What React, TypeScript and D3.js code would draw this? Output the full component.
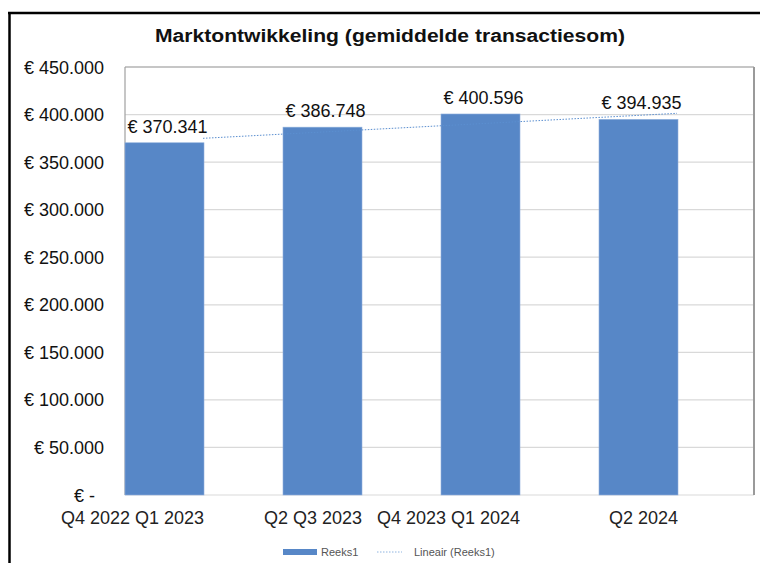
import React from "react";
import * as d3 from "d3";

const categories = ["Q1 2023", "Q3 2023", "Q1 2024", "Q2 2024"];
const axisLabels = ["Q4 2022 Q1 2023", "Q2 Q3 2023", "Q4 2023 Q1 2024", "Q2 2024"];
const values = [370341, 386748, 400596, 394935];
const yTicks = [0, 50000, 100000, 150000, 200000, 250000, 300000, 350000, 400000, 450000];
const title = "Marktontwikkeling (gemiddelde transactiesom)";
const legendLabels = ["Reeks1", "Lineair (Reeks1)"];

const W = 760;
const H = 563;
const plot = { left: 125, right: 754, top: 67, bottom: 495 };
const barColor = "#5787c7";
const font = "'Liberation Sans', Arial, sans-serif";

const fmt = (v: number) => {
  if (v === 0) return "€ -";
  return "€ " + d3.format(",")(v).replace(/,/g, ".");
};

export default function App() {
  const y = d3.scaleLinear().domain([0, 450000]).range([plot.bottom, plot.top]);
  const x = d3
    .scaleBand<string>()
    .domain(categories)
    .range([plot.left, plot.left + 4 * 158])
    .padding(0);
  const bw = x.bandwidth() * 0.5;

  // linear trendline (least squares on index)
  const idx = values.map((_, i) => i);
  const mx = d3.mean(idx)!;
  const my = d3.mean(values)!;
  const slope =
    d3.sum(idx.map((i) => (i - mx) * (values[i] - my))) /
    d3.sum(idx.map((i) => (i - mx) * (i - mx)));
  const icpt = my - slope * mx;
  const trendPts: [number, number][] = [0, values.length - 1].map((i) => [
    x(categories[i])! + bw - 1,
    y(icpt + slope * i),
  ]);
  const trendLine = d3.line()(trendPts) || "";

  return (
    <svg
      width={W}
      height={H}
      style={{ position: "absolute", left: 0, top: 0, background: "#fff" }}
      fontFamily={font}
    >
      <rect x={0} y={0} width={W} height={H} fill="#fff" />
      {/* outer frame */}
      <line x1={9.5} x2={9.5} y1={12} y2={H} stroke="#000" strokeWidth={2.5} />
      <line x1={8} x2={W} y1={13} y2={13} stroke="#000" strokeWidth={2.5} />

      <text
        x={390}
        y={42}
        textAnchor="middle"
        fontSize={18}
        fontWeight="bold"
        fill="#111"
        textLength={470}
        lengthAdjust="spacingAndGlyphs"
      >
        {title}
      </text>

      {/* gridlines */}
      {yTicks.map((t) => (
        <line
          key={t}
          x1={plot.left}
          x2={plot.right}
          y1={y(t)}
          y2={y(t)}
          stroke="#d9d9d9"
          strokeWidth={1.2}
        />
      ))}
      {/* plot border */}
      <line x1={plot.left} x2={plot.right} y1={plot.top} y2={plot.top} stroke="#a0a0a0" strokeWidth={1.2} />
      <line x1={plot.left} x2={plot.left} y1={plot.top} y2={plot.bottom} stroke="#a0a0a0" strokeWidth={1.2} />
      <line x1={plot.right} x2={plot.right} y1={plot.top} y2={plot.bottom} stroke="#9a9a9a" strokeWidth={2} />

      {/* y tick labels */}
      {yTicks.map((t) => (
        <text
          key={t}
          x={t === 0 ? 95 : 104}
          y={y(t) + 6.5}
          textAnchor="end"
          fontSize={18}
          fill="#111"
        >
          {fmt(t)}
        </text>
      ))}

      {/* bars */}
      {categories.map((c, i) => (
        <rect
          key={c}
          x={x(c)!}
          y={y(values[i])}
          width={bw}
          height={plot.bottom - y(values[i])}
          fill={barColor}
          stroke="#8fb0dd"
          strokeWidth={0.6}
        />
      ))}

      {/* trendline */}
      <path d={trendLine} stroke="#5b8fd0" strokeWidth={1} strokeDasharray="1.5 1.5" fill="none" />

      {/* data labels */}
      {categories.map((c, i) => (
        <text
          key={c}
          x={x(c)! + bw / 2 + 3}
          y={y(values[i]) - 10}
          textAnchor="middle"
          fontSize={18}
          fill="#111"
        >
          {fmt(values[i])}
        </text>
      ))}

      {/* x axis labels */}
      {categories.map((c, i) => (
        <text
          key={c}
          x={x(c)! + bw}
          y={524}
          textAnchor="end"
          fontSize={18}
          fill="#222"
        >
          {axisLabels[i]}
        </text>
      ))}

      {/* legend */}
      <rect x={283} y={549} width={34} height={6} fill={barColor} />
      <text x={321} y={556} fontSize={11} fill="#555">
        {legendLabels[0]}
      </text>
      <line x1={377} x2={402} y1={552} y2={552} stroke="#8fb4e0" strokeWidth={1} strokeDasharray="1.5 1.5" />
      <text x={414} y={556} fontSize={11} fill="#555">
        {legendLabels[1]}
      </text>
    </svg>
  );
}
